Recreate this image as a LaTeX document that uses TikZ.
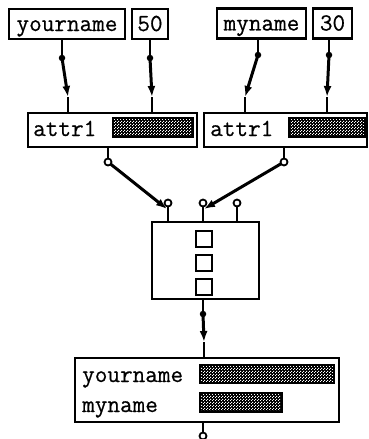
\documentclass[tikz,border=0pt]{standalone}
\usepackage{fontspec}
\usepackage{tikz}
\usetikzlibrary{arrows.meta,patterns,calc}
\newfontfamily\kastenfont[FakeBold=0.6]{Latin Modern Mono}
\pgfdeclarepatternformonly{feinkaro}{\pgfqpoint{0pt}{0pt}}{\pgfqpoint{2.6pt}{2.6pt}}{\pgfqpoint{2.6pt}{2.6pt}}{%
  \pgfpathrectangle{\pgfqpoint{0pt}{0pt}}{\pgfqpoint{1.1pt}{1.1pt}}%
  \pgfpathrectangle{\pgfqpoint{1.3pt}{1.3pt}}{\pgfqpoint{1.1pt}{1.1pt}}%
  \pgfusepath{fill}}
\tikzset{
  schrift/.style={font=\fontsize{24.5}{26}\kastenfont},
  kasten/.style={draw,line width=2.4pt,inner sep=0pt,schrift},
  wert/.style={kasten,text height=18pt,text depth=4pt,minimum height=30pt},
  txt/.style={schrift,anchor=base west,inner sep=0pt},
  balken/.style={draw,line width=2.4pt,preaction={fill=black},pattern=feinkaro,
    pattern color=white,inner sep=0pt},
  draht/.style={line width=3pt,-{Latex[length=11pt,width=8pt]}},
  stummel/.style={line width=2.5pt},
  punkt/.style={circle,fill,inner sep=0pt,minimum size=6.5pt},
  ring/.style={circle,draw,fill=white,line width=1.8pt,inner sep=0pt,minimum size=7pt},
  fach/.style={draw,line width=2.8pt,minimum size=16pt,inner sep=0pt},
}

\begin{document}
\begin{tikzpicture}[x=1pt,y=-1pt]
  \useasboundingbox (0,0) rectangle (369,439);
  % Werte oben
  \node[wert,minimum width=116pt] (yn) at (67,24) {yourname};
  \node[wert,minimum width=36pt] (n50) at (150,24) {50};
  \node[wert,minimum width=89pt] (mn) at (261.5,23.5) {myname};
  \node[wert,minimum width=39pt] (n30) at (332.5,23.5) {30};
  % attr1-Kaesten
  \node[kasten,minimum width=169pt,minimum height=34pt] (attrA) at (112.5,130) {};
  \node[txt] (attrAtxt) at (33,136) {attr1};
  \node[balken,minimum width=80pt,minimum height=19pt] (attrAbal) at (153,127.5) {};
  \node[kasten,minimum width=163pt,minimum height=34pt] (attrB) at (285.5,130) {};
  \node[txt] (attrBtxt) at (210,136) {attr1};
  \node[balken,minimum width=76pt,minimum height=19pt] (attrBbal) at (327,127.5) {};
  % Mitte
  \node[kasten,minimum width=107pt,minimum height=77pt] (mitte) at (205.5,260.5) {};
  \foreach \y [count=\i] in {239,263,287}
    \node[fach] (fach\i) at (204,\y) {};
  % Ergebnis unten
  \node[kasten,minimum width=264pt,minimum height=64pt] (unten) at (207,390) {};
  \node[txt] (untentxt1) at (82,382) {yourname};
  \node[txt] (untentxt2) at (82,412) {myname};
  \node[balken,minimum width=134pt,minimum height=18pt] (untenbal1) at (267,374) {};
  \node[balken,minimum width=82pt,minimum height=19pt] (untenbal2) at (241,402.5) {};
  % Anschluesse
  \coordinate (ynaus) at (62,58);
  \coordinate (n50aus) at (150,58);
  \coordinate (mnaus) at (258,55);
  \coordinate (n30aus) at (329,55);
  \coordinate (attrAein1) at (68,97);
  \coordinate (attrAein2) at (152,97);
  \coordinate (attrBein1) at (245,97);
  \coordinate (attrBein2) at (327,97);
  \coordinate (attrAaus) at (108,162);
  \coordinate (attrBaus) at (284,162);
  \coordinate (mitteein1) at (168,203);
  \coordinate (mitteein2) at (203,203);
  \coordinate (mitteein3) at (237,203);
  \coordinate (mitteaus) at (203,314);
  \coordinate (unteneinA) at (204,342);
  \coordinate (untenaus) at (203,436);
  % Stummel
  \foreach \a/\b in {ynaus/yn,n50aus/n50,mnaus/mn,n30aus/n30}
    \draw[stummel] (\a) -- (\a |- \b.south);
  \foreach \a/\b in {attrAein1/attrA,attrAein2/attrA,attrBein1/attrB,attrBein2/attrB,
                     mitteein1/mitte,mitteein2/mitte,mitteein3/mitte,unteneinA/unten}
    \draw[stummel] (\a) -- (\a |- \b.north);
  \foreach \a/\b in {attrAaus/attrA,attrBaus/attrB,mitteaus/mitte,untenaus/unten}
    \draw[stummel] (\a) -- (\a |- \b.south);
  % Draehte
  \draw[draht] (ynaus) -- (attrAein1);
  \draw[draht] (n50aus) -- (attrAein2);
  \draw[draht] (mnaus) -- (attrBein1);
  \draw[draht] (n30aus) -- (attrBein2);
  \draw[draht] (attrAaus) -- ($(mitteein1)+(-1,6)$);
  \draw[draht] (attrBaus) -- ($(mitteein2)+(1,6)$);
  \draw[draht] (mitteaus) -- (unteneinA);
  % Punkte und Ringe
  \foreach \p in {ynaus,n50aus,mnaus,n30aus,mitteaus}
    \node[punkt] at (\p) {};
  \foreach \p in {attrAaus,attrBaus,mitteein1,mitteein2,mitteein3,untenaus}
    \node[ring] at (\p) {};
\end{tikzpicture}
\end{document}
